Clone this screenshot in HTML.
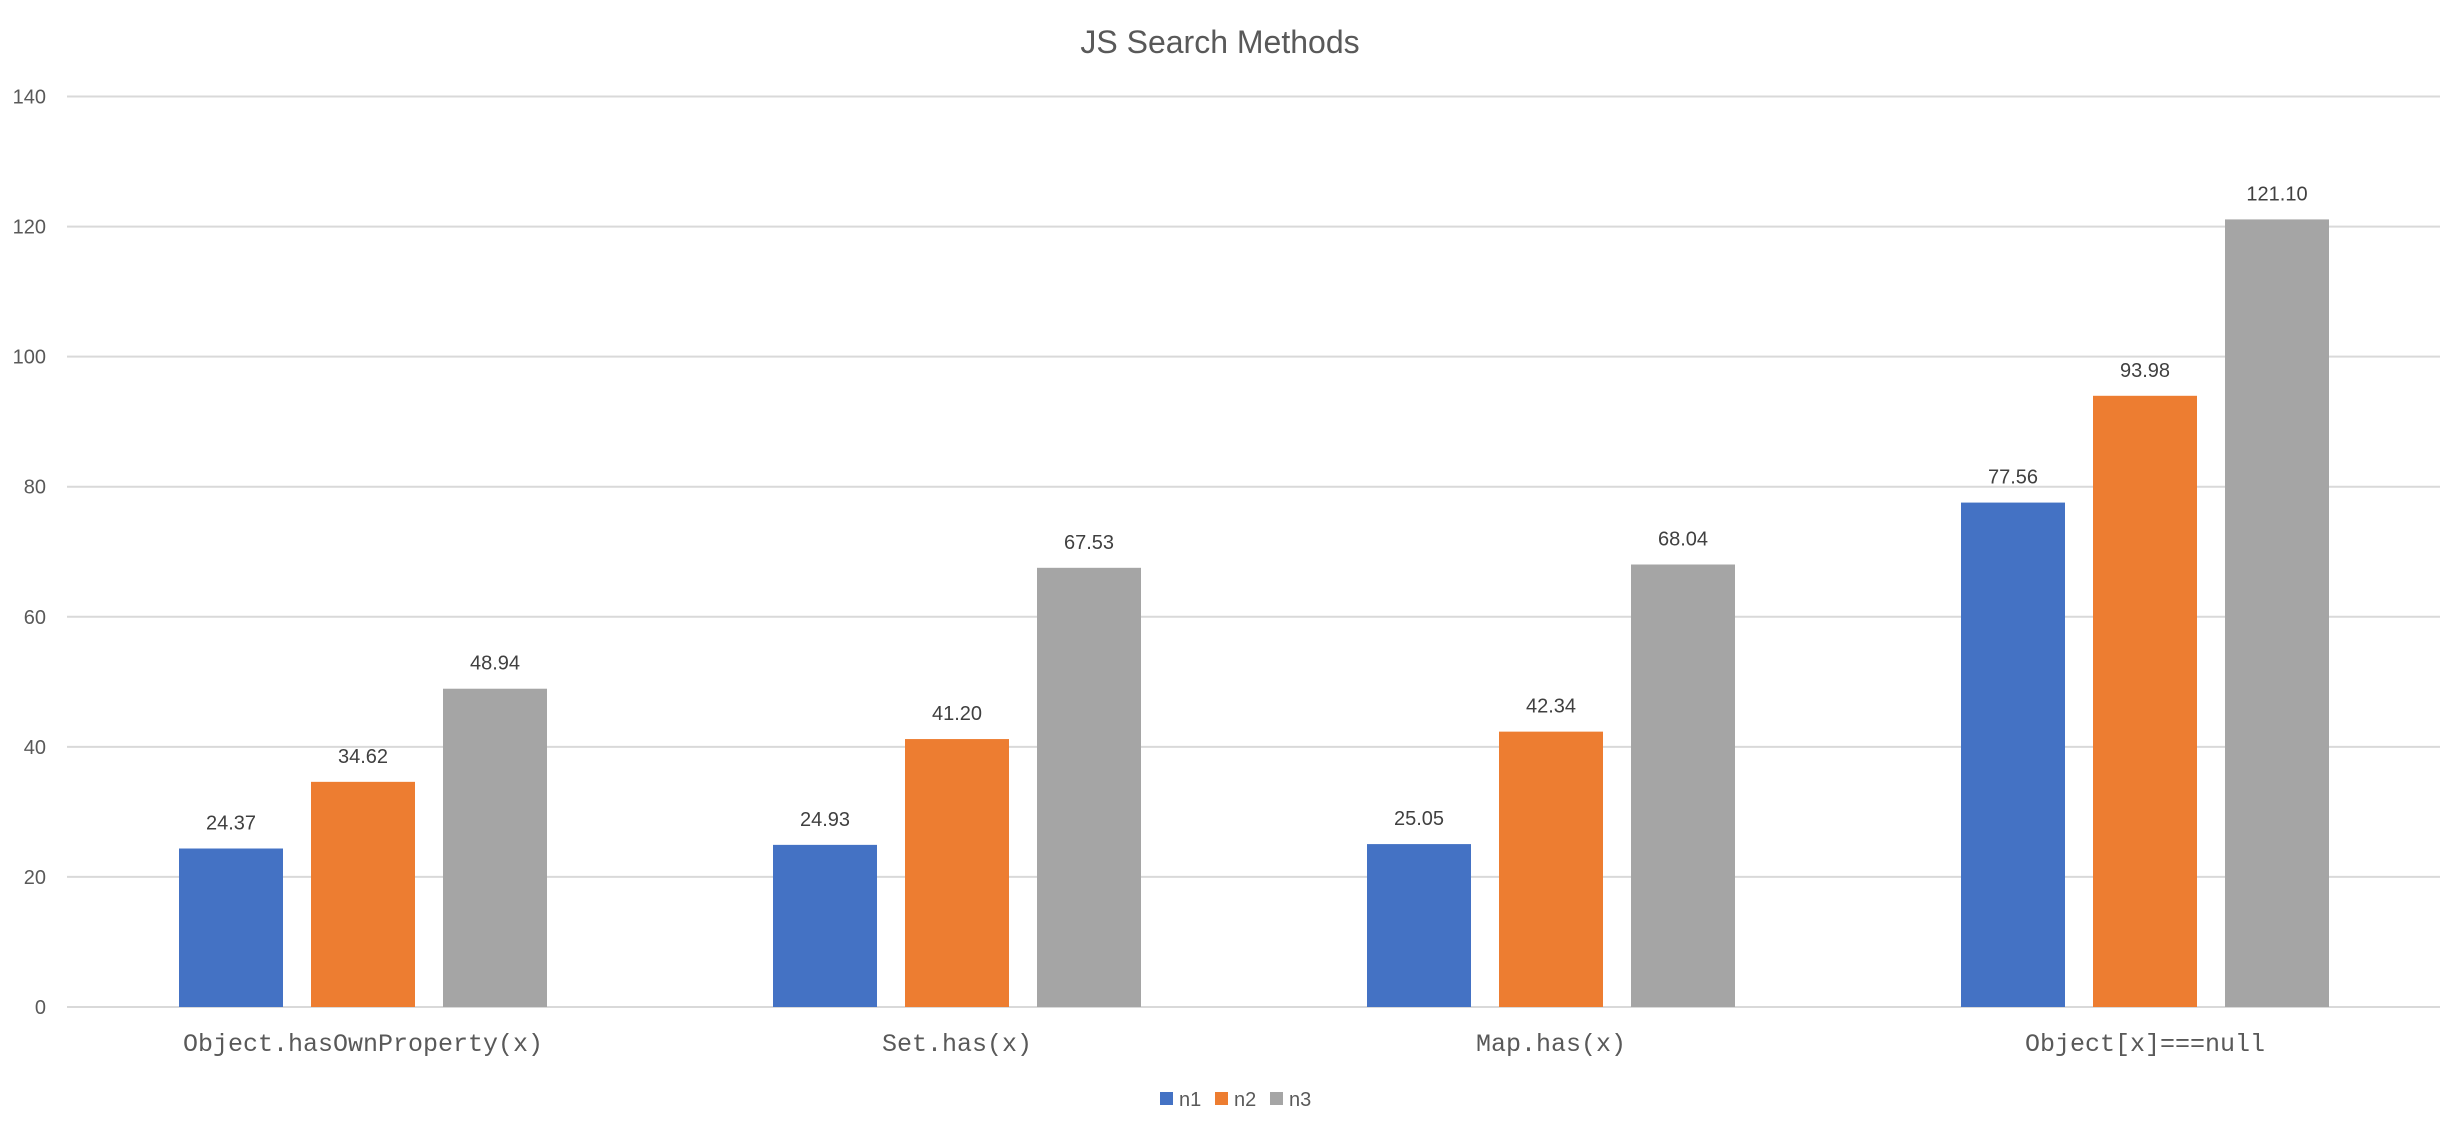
<!DOCTYPE html>
<html><head><meta charset="utf-8"><style>
html,body{margin:0;padding:0;background:#fff;}
svg{display:block;}
</style></head><body>
<svg id="chart" width="2440" height="1136" xmlns="http://www.w3.org/2000/svg">
<rect width="2440" height="1136" fill="#fff"/>
<text x="1220" y="53" text-anchor="middle" font-family="Liberation Sans, sans-serif" font-size="32" fill="#595959">JS Search Methods</text>
<g id="grid"></g><g id="bars"></g><g id="labels"></g>
<g font-family="Liberation Sans, sans-serif" font-size="20" fill="#595959">
<g><rect x="1160" y="1092" width="13" height="13" fill="#4472C4"/><text x="1179" y="1106">n1</text></g>
<g><rect x="1215" y="1092" width="13" height="13" fill="#ED7D31"/><text x="1234" y="1106">n2</text></g>
<g><rect x="1270" y="1092" width="13" height="13" fill="#A5A5A5"/><text x="1289" y="1106">n3</text></g>
</g>
</svg>
<script>
const categories = ["Object.hasOwnProperty(x)", "Set.has(x)", "Map.has(x)", "Object[x]===null"];
const n1 = [24.37, 24.93, 25.05, 77.56];
const n2 = [34.62, 41.20, 42.34, 93.98];
const n3 = [48.94, 67.53, 68.04, 121.10];
const yTicks = [0, 20, 40, 60, 80, 100, 120, 140];

const NS = "http://www.w3.org/2000/svg";
const left = 66, right = 2442, y0 = 1007, yTop = 96.5, yMax = 140;
const yS = v => y0 - (v / yMax) * (y0 - yTop);
const catW = (right - left) / categories.length;
const barW = 104, gap = 28;
const series = [n1, n2, n3];
const colors = ["#4472C4", "#ED7D31", "#A5A5A5"];
function mk(tag, attrs, parent) {
  const e = document.createElementNS(NS, tag);
  for (const k in attrs) e.setAttribute(k, attrs[k]);
  parent.appendChild(e);
  return e;
}
const grid = document.getElementById('grid');
const bars = document.getElementById('bars');
const labels = document.getElementById('labels');
yTicks.forEach(t => {
  const l = mk('line', {x1: 67, x2: 2440, y1: yS(t), y2: yS(t), stroke: '#d9d9d9', 'stroke-width': 2}, grid);
  
  
  const tx = mk('text', {x: 46, y: yS(t) + 7, 'text-anchor': 'end', 'font-family': 'Liberation Sans, sans-serif', 'font-size': 20, fill: '#595959'}, labels);
  tx.textContent = t;
  
  
});
categories.forEach((c, i) => {
  const cx = left + catW * (i + 0.5);
  series.forEach((s, j) => {
    const x = cx + (j - 1) * (barW + gap) - barW / 2;
    const y = yS(s[i]);
    const r = mk('rect', {x: x, y: y, width: barW, height: y0 - y, fill: colors[j]}, bars);
    
    
    const t = mk('text', {x: x + barW / 2, y: y - 19, 'text-anchor': 'middle', 'font-family': 'Liberation Sans, sans-serif', 'font-size': 20, fill: '#404040'}, labels);
    t.textContent = s[i].toFixed(2);
    
    
  });
  const ct = mk('text', {x: cx, y: 1051, 'text-anchor': 'middle', 'font-family': 'Liberation Mono, monospace', 'font-size': 25, fill: '#595959'}, labels);
  ct.textContent = c;
  
  
});
</script>
</body></html>
